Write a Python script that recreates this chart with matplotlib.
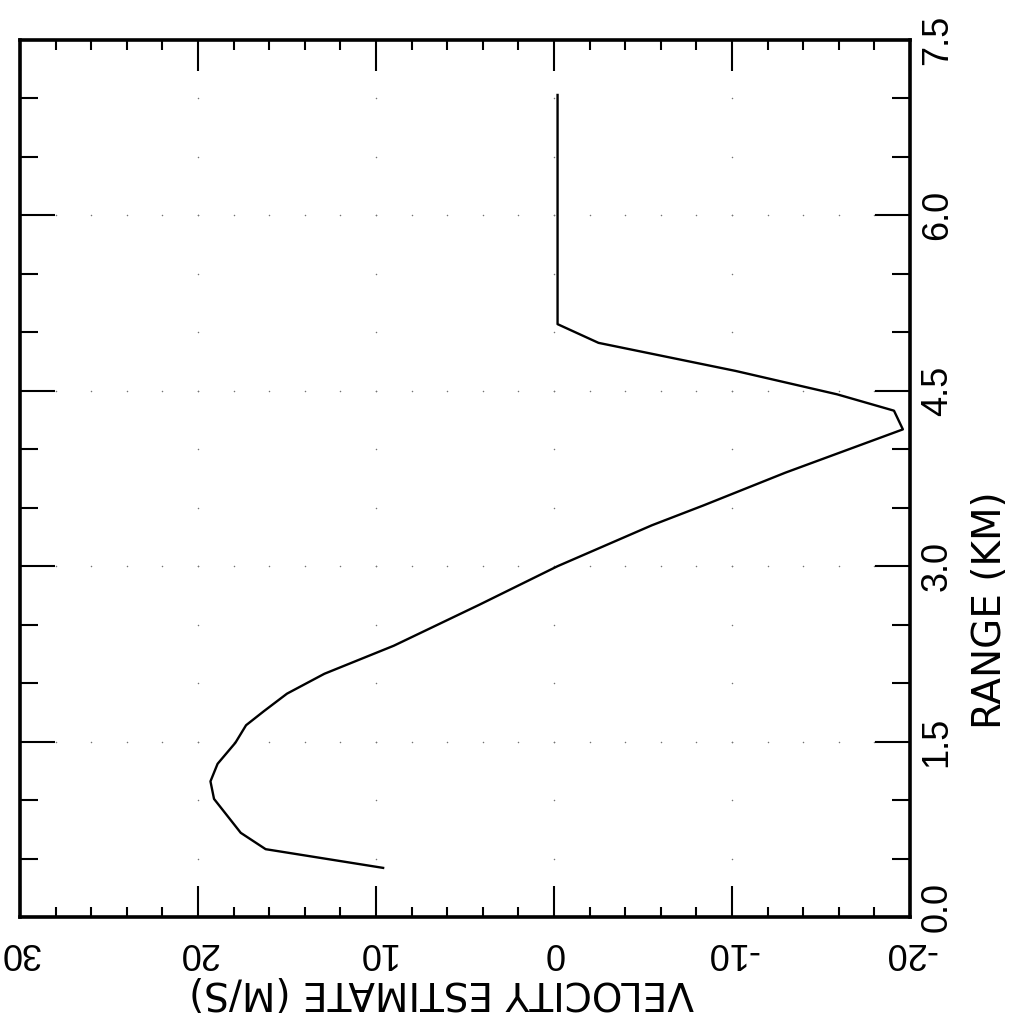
import numpy as np
import matplotlib
matplotlib.use('Agg')
import matplotlib.pyplot as plt
from matplotlib.transforms import ScaledTranslation

range_km = [0.42, 0.58, 0.72, 1.01, 1.16, 1.31, 1.49, 1.64, 1.76, 1.91, 2.08, 2.32,
            2.67, 3.00, 3.35, 3.52, 3.80, 4.17, 4.33, 4.47, 4.67, 4.91, 5.07, 7.03]
velocity = [9.6, 16.2, 17.6, 19.1, 19.3, 18.9, 17.9, 17.3, 16.3, 15.0, 12.9, 9.0,
            4.2, -0.2, -5.5, -8.4, -13.0, -19.6, -19.1, -15.9, -10.2, -2.5, -0.2, -0.2]

vel_major = [30, 20, 10, 0, -10, -20]
vel_labels = ['30', '20', '10', '0', '-10', '-20']
range_major = [0.0, 1.5, 3.0, 4.5, 6.0, 7.5]
range_labels = ['0.0', '1.5', '3.0', '4.5', '6.0', '7.5']

plt.rcParams['font.family'] = ['Liberation Sans', 'DejaVu Sans']

fig = plt.figure(figsize=(10.26, 10.19), dpi=100)
ax = fig.add_axes([20 / 1026, 1 - 917 / 1019, 890 / 1026, 877 / 1019])

# faint dotted grid: dots at minor spacing along the major lines
vel_minor = np.arange(-20, 31, 2)
range_minor = np.arange(0, 7.51, 0.5)
gx, gy = [], []
for r in range_major[1:-1]:
    gx += list(vel_minor)
    gy += [r] * len(vel_minor)
for v in vel_major[1:-1]:
    gx += [v] * len(range_minor)
    gy += list(range_minor)
ax.scatter(gx, gy, s=1.2, color='0.45', linewidths=0, zorder=1)

ax.plot(velocity, range_km, color='black', linewidth=1.7, zorder=3)

ax.set_xlim(30, -20)
ax.set_ylim(0, 7.5)

ax.set_xticks(vel_major)
ax.set_xticklabels(vel_labels, rotation=180, fontsize=26)
ax.set_xticks(vel_minor, minor=True)
ax.set_yticks(range_major)
ax.set_yticklabels(range_labels, rotation=90, va='center', fontsize=26)
ax.set_yticks(range_minor, minor=True)

ax.tick_params(axis='x', which='both', direction='in', top=True, bottom=True, width=1.5)
ax.tick_params(axis='x', which='major', length=22, pad=13)
ax.tick_params(axis='x', which='minor', length=7)
ax.tick_params(axis='y', which='both', direction='in', left=True, right=True,
               labelleft=False, labelright=True, width=1.5)
ax.tick_params(axis='y', which='major', length=25, pad=7)
ax.tick_params(axis='y', which='minor', length=13)

# nudge the 0.0 label up a little, as in the original
lab0 = ax.get_yticklabels()[0]
lab0.set_transform(lab0.get_transform() + ScaledTranslation(0, 10 / 100, fig.dpi_scale_trans))

for s in ax.spines.values():
    s.set_linewidth(2.6)

ax.set_xlabel('VELOCITY ESTIMATE (M/S)', rotation=180, fontsize=28, family='DejaVu Sans')
ax.xaxis.set_label_coords(0.474, -0.064)
ax.yaxis.set_label_position('right')
ax.set_ylabel('RANGE (KM)', rotation=90, fontsize=28, family='DejaVu Sans')
ax.yaxis.set_label_coords(1.068, 0.35)

fig.savefig('out.png', dpi=100)
